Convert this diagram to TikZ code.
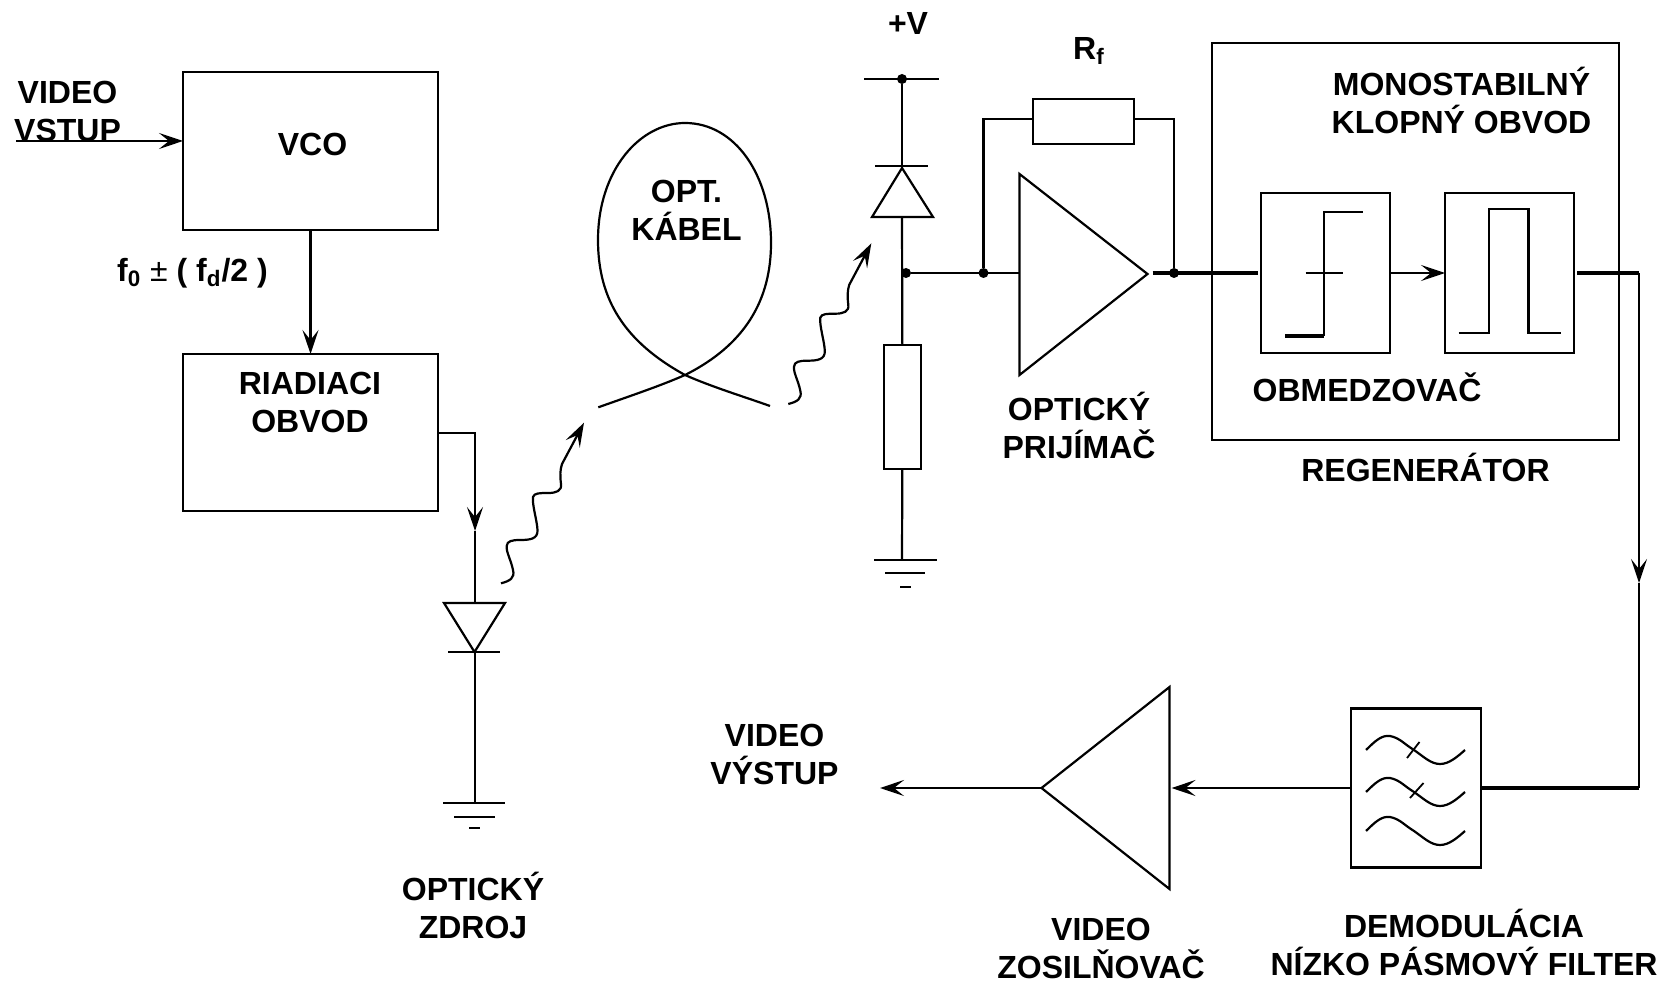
\documentclass[tikz,border=0pt]{standalone}
\usepackage{fontspec}
\setmainfont{Liberation Sans}
\usepackage{pgf,tikz}
\usetikzlibrary{arrows}
\usetikzlibrary{arrows.meta}
\tikzset{
blok/.style={draw=black,line width=1.25pt,inner sep=0pt,outer sep=0pt},
tenkyblok/.style={draw=black,line width=1.1pt,inner sep=0pt,outer sep=0pt},
popis/.style={inner sep=0pt,align=center,font=\fontsize{16}{19}\selectfont\bfseries},
bod/.style={circle,fill=black,inner sep=0pt,minimum size=5pt},
vodic/.style={line width=1.1pt},
hrubo/.style={line width=1.7pt},
ciara/.style={line width=1.1pt}
}
\begin{document}
\begin{tikzpicture}[line cap=butt,line join=miter,>={Stealth[length=12pt,width=8pt,inset=5pt]},x=0.5pt,y=-0.5pt]
\useasboundingbox (0,0) rectangle (1668,983);
\node [blok,minimum width=127.5pt,minimum height=79pt] (vco) at (310.5,151) {};
\node [blok,minimum width=127.5pt,minimum height=78.5pt] (riadiaci) at (310.5,432.5) {};
\node [tenkyblok,minimum width=50.5pt,minimum height=22.5pt] (rf) at (1083.5,121.5) {};
\node [tenkyblok,minimum width=18.5pt,minimum height=62pt] (odpor) at (902.5,407) {};
\node [tenkyblok,minimum width=203.5pt,minimum height=198.5pt] (regenerator) at (1415.5,241.5) {};
\node [tenkyblok,minimum width=64.5pt,minimum height=80pt] (obmedzovac) at (1325.5,273) {};
\node [tenkyblok,minimum width=64.5pt,minimum height=80pt] (klopny) at (1509.5,273) {};
\node [tenkyblok,minimum width=65pt,minimum height=79.5pt] (filter) at (1416,788) {};
\node [bod] (uzol_pd) at (906,273) {};
\node [bod] (uzol_vstup) at (983.5,273) {};
\node [bod] (uzol_vystup) at (1174,273) {};
\node [bod] (uzol_plus) at (902,79) {};
\coordinate (vstup) at (16,141);
\coordinate (vco_vstup) at (183,141);
\coordinate (riadiaci_vystup) at (438,433);
\coordinate (led_roh) at (475,433);
\coordinate (led_sipka) at (475,531);
\coordinate (led_hore) at (475,603);
\coordinate (led_dole) at (475,652);
\coordinate (led_zem) at (475,803);
\coordinate (pd_hore) at (902,166);
\coordinate (pd_dole) at (902,217);
\coordinate (zes_vstup) at (1019.5,273);
\coordinate (zes_vystup) at (1152.5,273);
\coordinate (rf_lavy) at (983.5,119);
\coordinate (rf_pravy) at (1174,119);
\coordinate (rf_lavyvstup) at (1033,119);
\coordinate (rf_pravyvstup) at (1134,119);
\coordinate (pd_zem) at (902,560);
\coordinate (roh_hore) at (1639,273);
\coordinate (roh_sipka) at (1639,583);
\coordinate (roh_dole) at (1639,788);
\coordinate (zos_vstup) at (1171.5,788);
\coordinate (zos_hrot) at (1041.5,788);
\coordinate (vystup) at (880,788);
\draw [vodic,->] (vstup) -- (vco_vstup);
\draw [vodic,->] (vco) -- (riadiaci);
\draw [vodic,->] (riadiaci_vystup) -- (led_roh) -- (led_sipka);
\draw [vodic] (led_sipka) -- (led_hore);
\draw [ciara] (444,603) -- (505,603) -- (474.5,652) -- cycle;
\draw [ciara] (448,652) -- (500,652);
\draw [vodic] (led_dole) -- (led_zem);
\draw [ciara] (443,803) -- (505,803);
\draw [ciara] (454,817) -- (495,817);
\draw [ciara] (469,828) -- (480,828);
\draw [ciara] (598.3,407.3) .. controls (630,396) and (660,386) .. (685,375) .. controls (745,345) and (771,300) .. (771,243) .. controls (771,175) and (735,123) .. (685,123) .. controls (640,123) and (598,170) .. (598,240) .. controls (598,300) and (625,342) .. (685,375) .. controls (712,387) and (745,397) .. (770,406);
\foreach \dx/\dy in {0/0,287.3/-179.3}
\draw [ciara,->,shift={(\dx,\dy)}] (501,583.3) .. controls (510,581) and (515,578) .. (513,570) .. controls (511,560) and (506,552) .. (506.7,546) .. controls (507,541) and (512,540) .. (520,540) .. controls (530,540) and (538,539) .. (537.5,530) .. controls (537,520) and (532,505) .. (533,497) .. controls (534,493) and (540,493) .. (548,493) .. controls (556,493) and (562,491) .. (561,484) .. controls (560,476) and (560,470) .. (562,464) -- (584,422.7);
\draw [line width=1.2pt] (864,79) -- (939,79);
\draw [vodic] (uzol_plus) -- (pd_hore);
\draw [line width=1.2pt] (875,166) -- (928,166);
\draw [ciara] (902,168) -- (933,217) -- (872,217) -- cycle;
\draw [vodic] (pd_dole) -- (odpor);
\draw [vodic] (odpor) -- (pd_zem);
\draw [line width=1.2pt] (874,560) -- (937,560);
\draw [line width=1.2pt] (885,573) -- (925,573);
\draw [line width=1.2pt] (900,587) -- (911,587);
\draw [line width=1.3pt] (uzol_pd) -- (zes_vstup);
\draw [vodic] (uzol_vstup) -- (rf_lavy) -- (rf_lavyvstup);
\draw [vodic] (rf_pravyvstup) -- (rf_pravy) -- (uzol_vystup);
\draw [ciara] (1019.5,174) -- (1147.5,274) -- (1019.5,375) -- cycle;
\draw [hrubo,shorten >=1.5pt] (zes_vystup) -- (obmedzovac);
\draw [ciara] (1305.5,273) -- (1343,273);
\draw [ciara] (1324,336) -- (1324,212) -- (1362.5,212);
\draw [hrubo] (1285,336) -- (1324,336);
\draw [vodic,->] (obmedzovac) -- (klopny);
\draw [ciara] (1458.5,333) -- (1489,333) -- (1489,209) -- (1528.5,209) -- (1528.5,333) -- (1561,333);
\draw [hrubo,shorten <=1.5pt] (klopny) -- (roh_hore);
\draw [vodic,->] (roh_hore) -- (roh_sipka);
\draw [vodic] (roh_sipka) -- (roh_dole);
\draw [hrubo] (roh_dole) -- (filter);
\foreach \ypos in {750,792,831}
\draw [ciara] (1366,\ypos) .. controls (1376,\ypos-10) and (1382,\ypos-15) .. (1390,\ypos-14) .. controls (1400,\ypos-12) and (1404,\ypos-6) .. (1414,\ypos) .. controls (1424,\ypos+7) and (1431,\ypos+14) .. (1440,\ypos+14) .. controls (1449,\ypos+14) and (1457,\ypos+7) .. (1465,\ypos);
\draw [line width=0.9pt] (1407,758) -- (1419.5,742);
\draw [line width=0.9pt] (1410,798) -- (1423.5,783);
\draw [vodic,->] (filter) -- (zos_vstup);
\draw [ciara] (zos_hrot) -- (1169.5,687) -- (1169.5,889) -- cycle;
\draw [vodic,->] (zos_hrot) -- (vystup);
\node [popis] (t_vstup) at (67.5,111) {VIDEO\\VSTUP};
\node [popis] (t_vco) at (312.5,144) {VCO};
\node [popis] (t_freq) at (192.5,273) {f\textsubscript{0} {\mdseries ±} ( f\textsubscript{d}/2 )};
\node [popis] (t_riadiaci) at (310,402) {RIADIACI\\OBVOD};
\node [popis] (t_zdroj) at (473,905.5) {OPTICKÝ\\ZDROJ};
\node [popis] (t_kabel) at (686.5,210) {OPT.\\KÁBEL};
\node [popis] (t_plus) at (908,23) {+V};
\node [popis] (t_rf) at (1089,51) {R\textsubscript{f}};
\node [popis] (t_prijimac) at (1079,425) {OPTICKÝ\\PRIJÍMAČ};
\node [popis] (t_klopny) at (1461.5,100) {MONOSTABILNÝ\\KLOPNÝ OBVOD};
\node [popis] (t_obmedzovac) at (1367,387) {OBMEDZOVAČ};
\node [popis] (t_regenerator) at (1425.5,467) {REGENERÁTOR};
\node [popis] (t_vystup) at (774.5,754) {VIDEO\\VÝSTUP};
\node [popis] (t_zosilnovac) at (1101,948) {VIDEO\\ZOSILŇOVAČ};
\node [popis] (t_filter) at (1464,942.5) {DEMODULÁCIA\\NÍZKO PÁSMOVÝ FILTER};
\end{tikzpicture}
\end{document}
